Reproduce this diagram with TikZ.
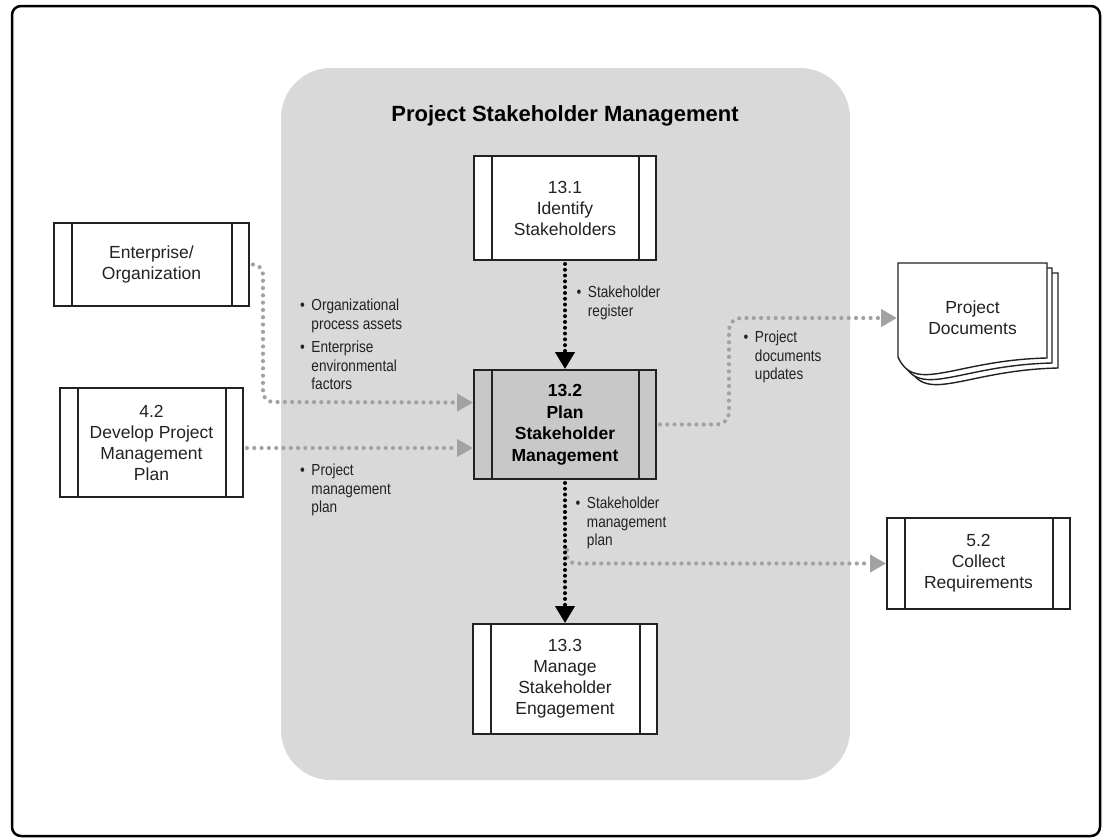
\documentclass[tikz,border=0pt]{standalone}
\usepackage{fontspec}
\setmainfont{Liberation Sans}
\newfontfamily\lblfont[FakeStretch=0.85]{Liberation Sans}
\usetikzlibrary{arrows.meta,calc}
\definecolor{regiongray}{HTML}{D9D9D9}
\definecolor{boxgray}{HTML}{C8C8C8}
\definecolor{arrgray}{HTML}{A2A2A2}
\definecolor{ink}{HTML}{222222}
\tikzset{
  proc/.style={draw=ink, line width=1.9pt, fill=white, align=center, inner sep=0pt, text=ink,
    font=\fontsize{17.5}{21}\selectfont,
    path picture={
      \draw[ink, line width=1.9pt] ([xshift=18pt]path picture bounding box.north west) -- ([xshift=18pt]path picture bounding box.south west);
      \draw[ink, line width=1.9pt] ([xshift=-17pt]path picture bounding box.north east) -- ([xshift=-17pt]path picture bounding box.south east);
    }},
  lbl/.style={anchor=north west, inner sep=0pt, text=ink, font=\lblfont\fontsize{16}{18.5}\selectfont, align=left},
  gryarrow/.style={draw=arrgray, line width=4.2pt, line cap=round, dash pattern=on 0pt off 7.3pt, -{Triangle[length=16pt,width=17pt]}},
  blkarrow/.style={draw=black, line width=4pt, line cap=round, dash pattern=on 0pt off 5.8pt, -{Triangle[length=17pt,width=19pt]}},
  docpage/.style={fill=white, draw=ink, line width=1.4pt},
}
\begin{document}
\begin{tikzpicture}[x=1pt,y=-1pt]
\useasboundingbox (0,0) rectangle (1103,838);
% outer frame and region
\draw[line width=2.5pt, rounded corners=9pt] (12,6) rectangle (1100,836);
\fill[regiongray, rounded corners=50pt] (281,68) rectangle (850,780);

\node[font=\bfseries\fontsize{22}{26}\selectfont] (title) at (565,116) {Project Stakeholder Management};

% process boxes
\node[proc, minimum width=195pt, minimum height=83pt] (ent) at (151.5,264.5) {Enterprise/\\Organization};
\node[proc, minimum width=183pt, minimum height=109pt] (dev) at (151.5,442.5) {4.2\\Develop Project\\Management\\Plan};
\node[proc, minimum width=182pt, minimum height=104pt] (n131) at (565,208) {13.1\\Identify\\Stakeholders};
\node[proc, fill=boxgray, text=black, font=\bfseries\fontsize{17.5}{21.5}\selectfont, minimum width=182pt, minimum height=109pt] (n132) at (565,424.5) {13.2\\Plan\\Stakeholder\\Management};
\node[proc, minimum width=184pt, minimum height=110pt] (n133) at (565,679) {13.3\\Manage\\Stakeholder\\Engagement};
\node[proc, minimum width=183pt, minimum height=91pt] (n52) at (978.5,563.5) {5.2\\Collect\\Requirements};

% project documents
\foreach \dx/\dy in {11/10, 5/5, 0/0} {
  \filldraw[docpage, shift={(\dx,\dy)}] (898,263) -- (1047,263) -- (1047,358) .. controls (955,360) and (915,395) .. (898,357) -- cycle;
}
\node[align=center, text=ink, font=\fontsize{17.5}{21}\selectfont] (doc) at (972.5,317.5) {Project\\Documents};

% labels
\node[lbl] (lopa) at (300,297.5) {\begin{tabular}{@{}l@{\hspace{6.5pt}}l@{}}•&Organizational\\&process assets\\[5pt]•&Enterprise\\&environmental\\&factors\end{tabular}};
\node[lbl] (lpmp) at (300,462.5) {\begin{tabular}{@{}l@{\hspace{6.5pt}}l@{}}•&Project\\&management\\&plan\end{tabular}};
\node[lbl] (lsr) at (576.5,284.5) {\begin{tabular}{@{}l@{\hspace{6.5pt}}l@{}}•&Stakeholder\\&register\end{tabular}};
\node[lbl] (lpdu) at (743.5,329.5) {\begin{tabular}{@{}l@{\hspace{6.5pt}}l@{}}•&Project\\&documents\\&updates\end{tabular}};
\node[lbl] (lsmp) at (575.5,495.5) {\begin{tabular}{@{}l@{\hspace{6.5pt}}l@{}}•&Stakeholder\\&management\\&plan\end{tabular}};

% connector waypoints
\coordinate (e1) at (263,264.5);
\coordinate (e2) at (263,402);
\coordinate (d1) at (729,424.5);
\coordinate (d2) at (729,318);
\coordinate (docin) at (897,318);
\coordinate (br) at (567,550);

% connectors
\draw[gryarrow, rounded corners=10pt] ([xshift=3pt]ent.east) -- (e1) -- (e2) -- ([yshift=22pt]n132.west);
\draw[gryarrow] ([xshift=3pt,yshift=-5.5pt]dev.east) -- ([yshift=-23.5pt]n132.west);
\draw[gryarrow, rounded corners=12pt] ([xshift=3pt]n132.east) -- (d1) -- (d2) -- (docin);
\draw[gryarrow, rounded corners=9pt] (br) |- (n52.west);
\draw[blkarrow, shorten <=3pt] (n131.south) -- (n132.north);
\draw[blkarrow, shorten <=3pt] (n132.south) -- (n133.north);
\end{tikzpicture}
\end{document}
